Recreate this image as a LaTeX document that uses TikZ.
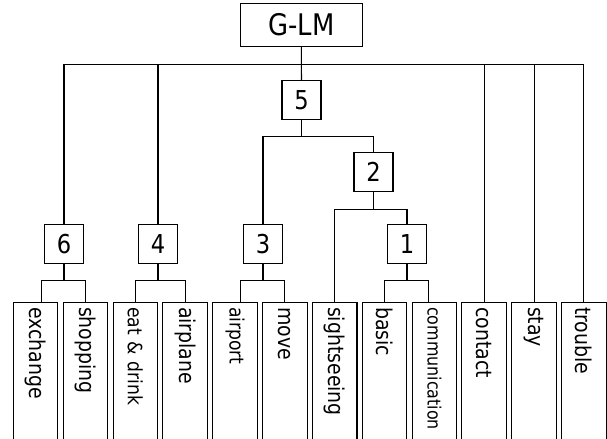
\documentclass[tikz,border=0pt]{standalone}
\usepackage{fontspec}
\setmainfont{DejaVu Sans}[FakeStretch=0.87]
\usetikzlibrary{calc}
\tikzstyle{root}=[rectangle,draw,line width=0.8pt,minimum width=91.5pt,minimum height=32.25pt,inner sep=0pt,font=\fontsize{22.3}{26}\selectfont]
\tikzstyle{num}=[rectangle,draw,line width=0.8pt,minimum width=29.25pt,minimum height=29.25pt,inner sep=0pt,font=\fontsize{19.5}{23}\selectfont]
\tikzstyle{leaf}=[rectangle,draw,line width=0.8pt,rotate=-90,anchor=west,minimum height=33.4pt,inner xsep=3.4pt,inner ysep=0pt,text width=104pt,align=left,font=\fontsize{16.3}{19}\selectfont]
\tikzstyle{leafs}=[leaf,font=\fontsize{14.8}{18}\selectfont]
\tikzstyle{leafxs}=[leaf,font=\fontsize{13.7}{16}\selectfont]
\tikzstyle{link}=[line width=0.8pt]

\begin{document}
\begin{tikzpicture}[x=0.75pt,y=-0.75pt]
	\useasboundingbox (0,0) rectangle (607,439);
	\clip (0,0) rectangle (607,439);

	\node[root] (glm) at (301.3, 24.8) {G-LM};
	\node[num] (n5) at (301.5, 99.8) {5};
	\node[num] (n2) at (373.5, 172) {2};
	\node[num] (n6) at (64, 243.8) {6};
	\node[num] (n4) at (158, 243.8) {4};
	\node[num] (n3) at (263, 243.8) {3};
	\node[num] (n1) at (407, 243.8) {1};

	\node[leaf] (exchange) at (35.6, 302) {exchange};
	\node[leaf] (shopping) at (85.4, 302) {shopping};
	\node[leafs] (eatdrink) at (135.3, 302) {eat \& drink};
	\node[leaf] (airplane) at (185.1, 302) {airplane};
	\node[leafs] (airport) at (235.0, 302) {airport};
	\node[leaf] (move) at (284.8, 302) {move};
	\node[leaf] (sightseeing) at (334.7, 302) {sightseeing};
	\node[leaf] (basic) at (384.5, 302) {basic};
	\node[leafxs] (communication) at (434.4, 302) {communication};
	\node[leaf] (contact) at (484.2, 302) {contact};
	\node[leaf] (stay) at (534.1, 302) {stay};
	\node[leaf] (trouble) at (583.9, 302) {trouble};

	\draw[link] (glm.south) -- ++(0,18) -| (n6.north);
	\draw[link] (glm.south) -- ++(0,18) -| (n4.north);
	\draw[link] (glm.south) -- (n5.north);
	\draw[link] (glm.south) -- ++(0,18) -| (contact.west);
	\draw[link] (glm.south) -- ++(0,18) -| (stay.west);
	\draw[link] (glm.south) -- ++(0,18) -| (trouble.west);

	\draw[link] (n5.south) -- ++(0,17) -| (n3.north);
	\draw[link] (n5.south) -- ++(0,17) -| (n2.north);

	\draw[link] (n2.south) -- ++(0,17) -| (sightseeing.west);
	\draw[link] (n2.south) -- ++(0,17) -| (n1.north);

	\draw[link] (n6.south) -- ++(0,17) -| ([xshift=4.3pt]exchange.west);
	\draw[link] (n6.south) -- ++(0,17) -| (shopping.west);
	\draw[link] (n4.south) -- ++(0,17) -| (eatdrink.west);
	\draw[link] (n4.south) -- ++(0,17) -| (airplane.west);
	\draw[link] (n3.south) -- ++(0,17) -| ([xshift=4.3pt]airport.west);
	\draw[link] (n3.south) -- ++(0,17) -| (move.west);
	\draw[link] (n1.south) -- ++(0,17) -| (basic.west);
	\draw[link] (n1.south) -- ++(0,17) -| ([xshift=-4.3pt]communication.west);
\end{tikzpicture}
\end{document}
